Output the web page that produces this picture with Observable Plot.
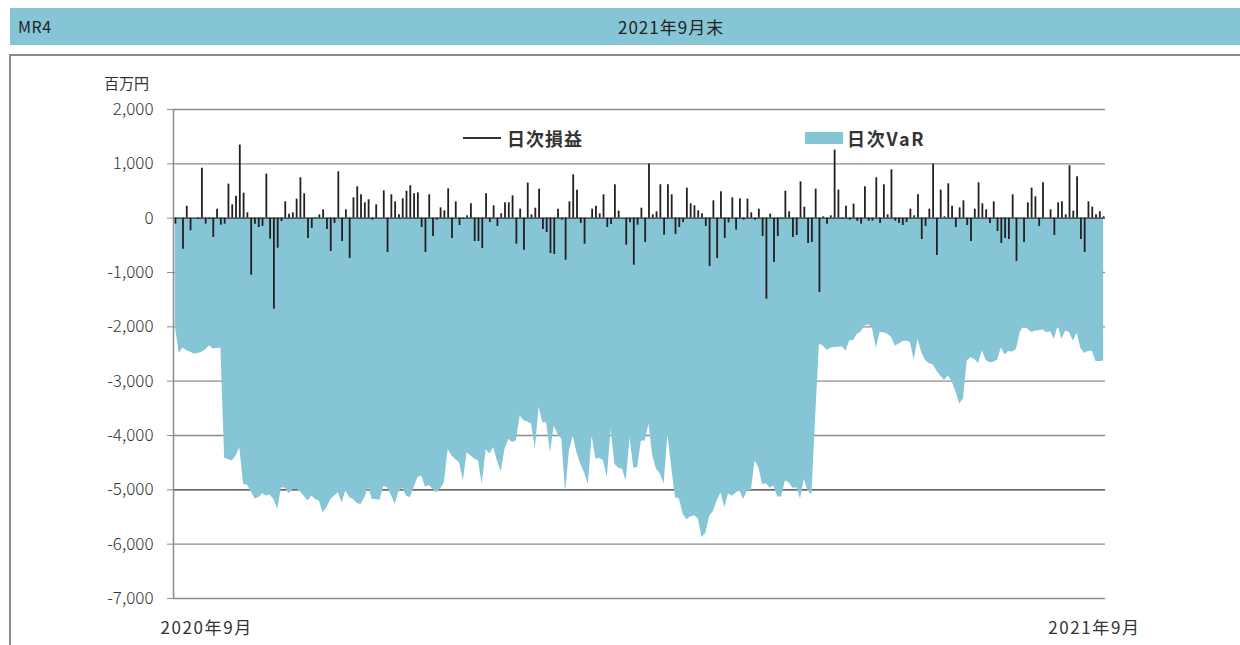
<!DOCTYPE html>
<html><head><meta charset="utf-8">
<script src="https://cdn.jsdelivr.net/npm/d3@7"></script>
<script src="https://cdn.jsdelivr.net/npm/@observablehq/plot@0.6"></script>
<style>
body{margin:0;background:#fff;font-family:"Noto Sans CJK JP","Noto Sans",sans-serif;color:#333;}
#wrap{position:relative;width:1240px;height:645px;overflow:hidden;background:#fff;}
#header{position:absolute;left:10px;top:8px;width:1230px;height:37px;background:#86c5d5;}
#mr{position:absolute;left:8px;top:0;line-height:37px;font-size:16px;letter-spacing:0.5px;color:#222;}
#title{position:absolute;left:608px;top:0;line-height:37px;font-size:17px;letter-spacing:1px;color:#222;}
#boxTop{position:absolute;left:10px;top:54px;width:1230px;height:2px;background:#8a8a8a;}
#boxLeft{position:absolute;left:9px;top:54px;width:2px;height:600px;background:#8a8a8a;}
#unit{position:absolute;left:104px;top:73px;font-size:15px;line-height:20px;color:#333;}
.lg{position:absolute;font-size:18px;font-weight:bold;line-height:22px;letter-spacing:1px;color:#333;}
#chart{position:absolute;left:0;top:0;}
</style></head><body>
<div id="wrap">
  <div id="header"><span id="mr">MR4</span><span id="title">2021年9月末</span></div>
  <div id="boxTop"></div><div id="boxLeft"></div>
  <div id="unit">百万円</div>
  <div style="position:absolute;left:463px;top:137px;width:38px;height:1.6px;background:#333;"></div>
  <div class="lg" style="left:507px;top:127px;">日次損益</div>
  <div style="position:absolute;left:805px;top:132px;width:38px;height:12px;background:#86c5d5;"></div>
  <div class="lg" style="left:847px;top:127px;letter-spacing:1.8px;">日次VaR</div>
  <div id="chart"></div>
</div>
<script>
// 日次損益 (百万円), one value per business day
const dailyPnL = [
 -110, 0, -570, 220, -233, 0, -25, 920, -110, -25, -356, 166, -129, -110, 626, 245, 405, 1345, 460, 98, -1050, -110, -172, -153, 810, -387, -1676, -553, -61, 300,
 74, 98, 350, 743, 448, -375, -190, 10, 61, 153, -209, -614, -98, 853, -430, 153, -743, 375, 577, 430, 282, 338, -37, 245, 0, 503, -632, 430, 300, 61,
 356, 497, 595, 448, 466, -172, -632, 430, -338, -37, 190, 135, 540, -375, 300, -135, -25, 43, 264, -430, -430, -559, 448, -80, 227, -153, 80, 282, 282, 411,
 -479, 166, -590, 645, 61, 184, 534, -209, -264, -651, -669, 166, -37, -774, 300, 798, 516, -98, -479, 0, 166, 221, 80, 430, -172, -117, 614, 129, 0, -497, -86,
 -866, -129, 184, -448, 995, 61, 117, 614, -313, 614, 430, -301, -172, -80, 553, 264, 227, 135, 80, -153, -890, 319, -743, 485, -375, -86, 375, -221, 356, -37,
 350, 98, -37, 166, -338, -1492, 74, -817, -338, -18, 497, 117, -356, -319, 669, 203, -467, -448, 534, -1369, 25, -110, 43, 1253, 516, -18, 221, -37, 258, -61, -110,
 577, -55, -55, 743, -98, 614, 61, 890, -55, -98, -135, -80, 166, 43, 430, -393, -153, 166, 995, -688, 516, 25, 632, 221, -172, 190, 319, -135, -430, 166,
 651, 264, 153, -98, 300, -245, -467, -375, -393, 430, -798, 0, -448, 282, 553, 393, -153, 651, 0, 153, -319, 282, 300, 61, 964, 129, 761, -393, -632, 300, 203, 61, 117, 25
];
// 日次VaR (百万円, plotted as negative)
const dailyVaR = [
 -2000, -2490, -2390, -2440, -2470, -2500, -2490, -2470, -2420, -2350, -2410, -2400, -2390, -4420, -4440, -4470, -4380, -4224, -4900, -4912, -5030, -5164, -5145, -5072, -5115, -5096, -5176, -5360, -4961, -4973,
 -5072, -5000, -4990, -5035, -5120, -5207, -5115, -5176, -5207, -5422, -5330, -5176, -5115, -5053, -5237, -5022, -5145, -5176, -5250, -5268, -5145, -4961, -5176, -5180, -5190, -4937, -4961, -5100, -5268, -5035,
 -4973, -5115, -5145, -4961, -4777, -4746, -4950, -4920, -4990, -5053, -4990, -4869, -4255, -4378, -4440, -4500, -4838, -4317, -4378, -4439, -4470, -4900, -4268, -4340, -4224, -4470, -4667, -4255, -4071, -4130,
 -4100, -3640, -3730, -3750, -3790, -4255, -3475, -3764, -3764, -4317, -3825, -3980, -4071, -5053, -4285, -4010, -4317, -4531, -4685, -4900, -4010, -4439, -4420, -4470, -4777, -3886, -4531, -4605, -4620, -4838, -4040,
 -4605, -4590, -4100, -4100, -3795, -4378, -4620, -4715, -4893, -3980, -4590, -5145, -5164, -5447, -5550, -5500, -5477, -5530, -5877, -5800, -5490, -5400, -5207, -5053, -5330, -5072, -5120, -5060, -5022, -5176,
 -5010, -5022, -4470, -4593, -4900, -4890, -4973, -4930, -5133, -5133, -4838, -4869, -4973, -4961, -5164, -4808, -5022, -5096, -3650, -2321, -2352, -2431, -2395, -2382, -2375, -2370, -2444, -2260, -2250, -2137, -2094,
 -1983, -1960, -2030, -2400, -2106, -2110, -2137, -2190, -2352, -2321, -2270, -2260, -2290, -2616, -2229, -2475, -2620, -2680, -2700, -2812, -2904, -2990, -2904, -3009, -3190, -3420, -3330, -2628, -2567, -2600,
 -2677, -2444, -2620, -2660, -2650, -2616, -2390, -2517, -2450, -2470, -2413, -2106, -1983, -2045, -2106, -2075, -2070, -2060, -2110, -2090, -2229, -1983, -2229, -2075, -2106, -2260, -2118, -2395, -2493, -2456, -2444, -2640, -2640, -2628
];
const yTicks = [2000, 1000, 0, -1000, -2000, -3000, -4000, -5000, -6000, -7000];
const yTickLabels = ["2,000", "1,000", "0", "-1,000", "-2,000", "-3,000", "-4,000", "-5,000", "-6,000", "-7,000"];
const xLabels = ["2020年9月", "2021年9月"];

const N = dailyPnL.length;
const data = dailyPnL.map((p, i) => ({i, pnl: p, v: dailyVaR[i]}));
const labelOf = new Map(yTicks.map((t, k) => [t, yTickLabels[k]]));
const font = '"Noto Sans CJK JP","Noto Sans",sans-serif';

const chart = Plot.plot({
  width: 1240, height: 645,
  marginLeft: 173, marginRight: 135, marginTop: 109, marginBottom: 47,
  x: {domain: [-0.5, N - 0.5], axis: null},
  y: {domain: [-7000, 2000], axis: null},
  style: {background: "transparent", fontFamily: font, fontSize: "17px", color: "#333", overflow: "visible"},
  marks: [
    Plot.ruleY(yTicks.filter(t => t !== 0 && t !== -5000), {stroke: "#8c8c8c", strokeWidth: 1.3}),
    Plot.ruleY([-5000], {stroke: "#333", strokeWidth: 1.3}),
    Plot.areaY(data, {x: "i", y1: 0, y2: "v", fill: "#86c5d5", curve: "linear"}),
    Plot.ruleY([0], {stroke: "#333", strokeWidth: 1.3}),
    Plot.ruleX(data, {x: "i", y1: 0, y2: "pnl", stroke: "#231f20", strokeWidth: 1.8}),
    Plot.ruleX([-0.5], {stroke: "#8c8c8c", strokeWidth: 1.5}),
    Plot.axisY({ticks: yTicks, tickFormat: d => labelOf.get(d), tickSize: 6, tickPadding: 14, stroke: "#8c8c8c", fill: "#333", fontSize: 17, fontWeight: 300}),
    Plot.text([xLabels[0]], {x: 0, y: -7000, text: d => d, textAnchor: "start", dx: -15, dy: 30, fontSize: 17, fill: "#333"}),
    Plot.text([xLabels[1]], {x: N - 1, y: -7000, text: d => d, textAnchor: "end", dx: 37, dy: 30, fontSize: 17, fill: "#333"})
  ]
});
d3.select(chart).selectAll("text").filter(function () { return xLabels.includes(this.textContent); })
  .style("letter-spacing", "1.6px");
document.getElementById("chart").appendChild(chart);
</script>
</body></html>
